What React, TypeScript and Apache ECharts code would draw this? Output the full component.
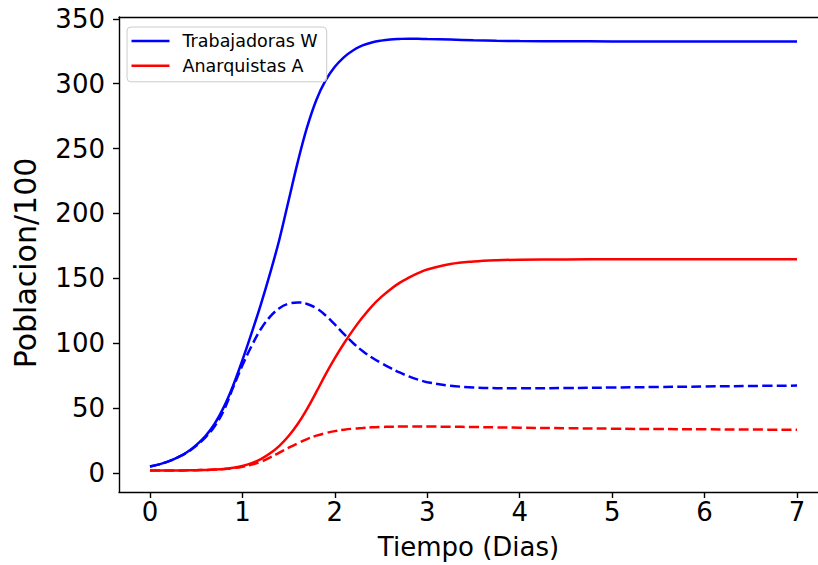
import React, { useEffect, useRef } from "react";
import * as echarts from "echarts";

// Time (days)
const t = [
  0, 0.1, 0.2, 0.3, 0.4, 0.5, 0.6, 0.7, 0.8, 0.9,
  1.0, 1.1, 1.2, 1.3, 1.4, 1.5, 1.6, 1.7, 1.8, 1.9,
  2.0, 2.1, 2.2, 2.3, 2.4, 2.5, 2.6, 2.7, 2.8, 2.9,
  3.0, 3.25, 3.5, 3.75, 4.0, 4.5, 5.0, 5.5, 6.0, 6.5, 7.0,
];

// Trabajadoras W (solid)
const wTotal = [
  5, 6.7, 9, 12, 16, 21.5, 28.5, 38, 51, 67.5,
  87, 108, 130, 154, 180, 210, 240, 266.5, 287.5, 302.5,
  313, 320.5, 325.8, 329.5, 331.8, 333.2, 334.1, 334.5, 334.7, 334.6,
  334.4, 334, 333.5, 333.1, 332.9, 332.7, 332.6, 332.5, 332.5, 332.5, 332.5,
];
// Trabajadoras W (dashed)
const wDashed = [
  5, 6.7, 9, 12, 15.8, 21, 27.5, 36, 48.5, 66,
  83, 98, 111, 120.5, 127, 130.5, 131.5, 130.3, 127, 121.5,
  114.5, 107, 100, 94, 89, 84.8, 81, 77.5, 74.5, 72,
  70, 67.3, 66, 65.4, 65.3, 65.5, 65.9, 66.3, 66.7, 67.1, 67.4,
];
// Anarquistas A (solid)
const aTotal = [
  2, 2, 2, 2, 2.1, 2.2, 2.4, 2.7, 3.2, 4.1,
  5.4, 7.6, 10.8, 15.2, 21, 28.5, 38, 49.5, 62.5, 76,
  88.5, 100, 110.5, 120, 128.5, 135.5, 141.5, 146.5, 150.5, 154,
  156.8, 161, 163, 164, 164.4, 164.6, 164.7, 164.7, 164.7, 164.7, 164.7,
];
// Anarquistas A (dashed)
const aDashed = [
  2, 2, 2, 2, 2.1, 2.2, 2.4, 2.7, 3.1, 3.8,
  4.9, 6.5, 8.7, 12, 15.8, 19.5, 23, 26.2, 28.8, 30.8,
  32.3, 33.4, 34.2, 34.7, 35.2, 35.5, 35.7, 35.85, 35.9, 35.9,
  35.85, 35.7, 35.45, 35.2, 34.95, 34.55, 34.2, 33.9, 33.7, 33.5, 33.4,
];

const xTicks = [0, 1, 2, 3, 4, 5, 6, 7];
const yTicks = [0, 50, 100, 150, 200, 250, 300, 350];

const FONT = "DejaVu Sans";

const pairs = (ys: number[]) => t.map((x, i) => [x, ys[i]]);

export default function App() {
  const ref = useRef<HTMLDivElement>(null);
  useEffect(() => {
    if (!ref.current) return;
    const chart = echarts.init(ref.current, null, { renderer: "svg" });
    const axisLine = { show: true, onZero: false, lineStyle: { color: "#000", width: 1.4 } };
    const lineSeries = (name: string, data: number[], color: string, dashed: boolean) => ({
      name,
      type: "line",
      data: pairs(data),
      smooth: 0.4,
      symbol: "none",
      showSymbol: false,
      lineStyle: { color, width: 2.5, type: dashed ? [10, 4.2] : "solid" },
      itemStyle: { color },
      z: 2,
    });
    chart.setOption({
      animation: false,
      backgroundColor: "#fff",
      grid: { left: 119, right: 0, top: 17, bottom: 72.5, containLabel: false },
      xAxis: [
        {
          type: "value",
          min: -0.335,
          max: 7.227,
          position: "bottom",
          axisLine,
          axisTick: { show: true, customValues: xTicks, length: 6, lineStyle: { color: "#000", width: 1.4 } },
          axisLabel: {
            show: true,
            customValues: xTicks,
            margin: 7,
            color: "#000",
            fontSize: 26,
            fontFamily: FONT,
          },
          splitLine: { show: false },
          name: "Tiempo (Dias)",
          nameLocation: "middle",
          nameGap: 42,
          nameTextStyle: { color: "#000", fontSize: 26, fontFamily: FONT },
        },
        {
          type: "value",
          min: -0.335,
          max: 7.227,
          position: "top",
          axisLine,
          axisTick: { show: false },
          axisLabel: { show: false },
          splitLine: { show: false },
        },
      ],
      yAxis: {
        type: "value",
        min: -14.6,
        max: 351.4,
        axisLine,
        axisTick: { show: true, customValues: yTicks, length: 6, lineStyle: { color: "#000", width: 1.4 } },
        axisLabel: {
          show: true,
          customValues: yTicks,
          margin: 14,
          color: "#000",
          fontSize: 26,
          fontFamily: FONT,
        },
        splitLine: { show: false },
      },
      legend: {
        show: true,
        orient: "vertical",
        left: 127,
        top: 27,
        data: [
          { name: "Trabajadoras W", icon: "rect" },
          { name: "Anarquistas A", icon: "rect" },
        ],
        itemWidth: 38,
        itemHeight: 2.6,
        itemGap: 6.8,
        padding: [5, 9, 7, 4.5],
        borderColor: "#cccccc",
        borderWidth: 1,
        borderRadius: 4,
        backgroundColor: "rgba(255,255,255,0.8)",
        textStyle: { color: "#000", fontSize: 17.5, fontFamily: FONT, padding: [0, 0, 0, 8] },
      },
      graphic: [
        {
          type: "text",
          x: 25,
          y: 263,
          rotation: Math.PI / 2,
          style: {
            text: "Poblacion/100",
            fill: "#000",
            fontSize: 30,
            fontFamily: FONT,
            textAlign: "center",
            textVerticalAlign: "middle",
          },
        },
      ],
      series: [
        lineSeries("Trabajadoras W", wTotal, "#0000ff", false),
        lineSeries("Anarquistas A", aTotal, "#ff0000", false),
        lineSeries("W dashed", wDashed, "#0000ff", true),
        lineSeries("A dashed", aDashed, "#ff0000", true),
      ],
    });
    return () => chart.dispose();
  }, []);
  return (
    <div
      ref={ref}
      style={{ position: "absolute", left: 0, top: 0, width: 818, height: 565, background: "#fff" }}
    />
  );
}
